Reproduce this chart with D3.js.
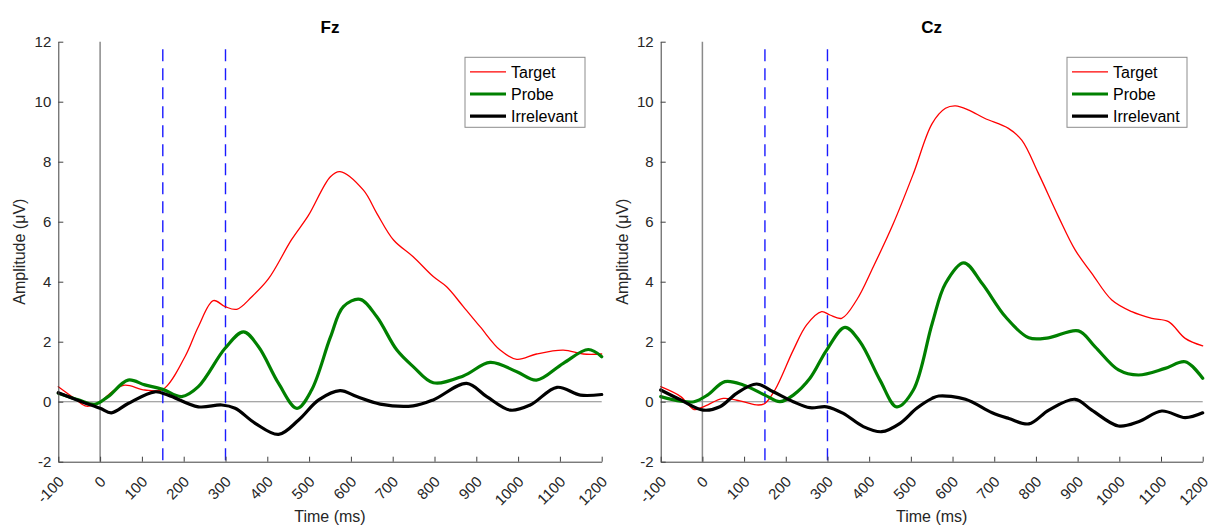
<!DOCTYPE html>
<html>
<head>
<meta charset="utf-8">
<script src="https://cdn.jsdelivr.net/npm/d3@7"></script>
<style>
  html, body { margin: 0; padding: 0; background: #fff; }
  svg { display: block; font-family: "Liberation Sans", Arial, Helvetica, sans-serif; }
</style>
</head>
<body>
<svg id="chart" width="1214" height="527"></svg>
<script>
// ---------------- data ----------------
const panelNames = ["Fz", "Cz"];
const seriesNames = ["Target", "Probe", "Irrelevant"];
const xTicks = [-100, 0, 100, 200, 300, 400, 500, 600, 700, 800, 900, 1000, 1100, 1200];
const yTicks = [-2, 0, 2, 4, 6, 8, 10, 12];
const markerTimes = [150, 300];

// Fz
const fzTargetT = [-100,-60,-32,0,30,59,107,150,203,235,271,299,327,363,403,458,498,551,574,630,662,702,749,797,829,869,909,957,997,1044,1108,1156,1200];
const fzTargetV = [0.5,0.1,-0.15,0,0.35,0.55,0.39,0.41,1.5,2.5,3.37,3.17,3.08,3.5,4.1,5.4,6.2,7.5,7.67,7.05,6.28,5.39,4.83,4.17,3.83,3.17,2.5,1.72,1.41,1.59,1.72,1.59,1.59];
const fzProbeT = [-100,-52,-13,19,67,107,150,195,235,299,343,379,427,471,506,551,582,622,662,710,749,797,869,933,997,1044,1108,1168,1200];
const fzProbeV = [0.28,0.06,-0.09,0.17,0.72,0.56,0.41,0.17,0.5,1.78,2.33,1.83,0.61,-0.22,0.39,2.15,3.17,3.41,2.83,1.72,1.17,0.63,0.86,1.31,1.0,0.72,1.28,1.74,1.5];
const fzIrrT = [-100,-44,0,27,67,131,163,235,291,323,371,427,475,523,574,614,670,749,797,877,925,981,1029,1093,1149,1200];
const fzIrrV = [0.3,0,-0.22,-0.37,-0.06,0.33,0.22,-0.17,-0.11,-0.22,-0.72,-1.09,-0.61,0.06,0.37,0.17,-0.08,-0.14,0.06,0.61,0.17,-0.28,-0.11,0.48,0.22,0.24];

// Cz
const czTargetT = [-100,-52,-20,2,50,90,134,150,174,218,250,286,306,334,370,410,458,506,551,583,607,639,678,734,766,806,854,894,934,982,1030,1078,1118,1158,1200];
const czTargetV = [0.5,0.17,-0.26,-0.17,0.11,0.03,-0.11,-0.06,0.39,1.72,2.56,3.0,2.89,2.78,3.39,4.5,5.94,7.6,9.27,9.78,9.86,9.72,9.44,9.11,8.72,7.61,6.17,5.06,4.28,3.39,3.0,2.78,2.67,2.11,1.86];
const czProbeT = [-100,-52,-20,12,54,98,150,186,218,258,298,342,378,426,466,506,551,583,627,671,727,783,830,902,942,998,1046,1110,1158,1200];
const czProbeV = [0.17,0.02,0,0.22,0.67,0.56,0.22,0,0.22,0.78,1.72,2.48,2.0,0.72,-0.17,0.39,2.6,3.94,4.63,3.94,2.83,2.13,2.13,2.36,1.83,1.06,0.89,1.11,1.33,0.78];
const czIrrT = [-100,-52,2,42,82,130,170,218,258,298,338,386,430,474,514,551,567,631,695,735,783,831,894,934,998,1046,1102,1158,1200];
const czIrrV = [0.39,0.06,-0.28,-0.17,0.28,0.59,0.33,0,-0.2,-0.17,-0.39,-0.83,-1.0,-0.72,-0.22,0.11,0.19,0.08,-0.37,-0.56,-0.74,-0.28,0.08,-0.28,-0.81,-0.67,-0.31,-0.53,-0.37];

// ---------------- layout / style ----------------
const seriesStyle = [
  { color: "#ff0000", width: 1.3 },
  { color: "#008000", width: 3.2 },
  { color: "#000000", width: 3.2 }
];
const panels = [
  { name: panelNames[0], left: 58.3, right: 601.7, legendX: 465,
    series: [[fzTargetT, fzTargetV], [fzProbeT, fzProbeV], [fzIrrT, fzIrrV]] },
  { name: panelNames[1], left: 660.7, right: 1202.7, legendX: 1067,
    series: [[czTargetT, czTargetV], [czProbeT, czProbeV], [czIrrT, czIrrV]] }
];
const plotTop = 41.7, plotBottom = 461.7;
const axisColor = "#404040";
const textColor = "#262626";
const fmt = d => String(d);

const svg = d3.select("#chart");

panels.forEach(p => {
  const x = d3.scaleLinear().domain([-100, 1200]).range([p.left, p.right]);
  const y = d3.scaleLinear().domain([-2, 12]).range([plotBottom, plotTop]);
  const g = svg.append("g");

  // zero reference lines
  g.append("line")
    .attr("x1", x(-100)).attr("x2", x(1200))
    .attr("y1", y(0)).attr("y2", y(0))
    .attr("stroke", "#8a8a8a").attr("stroke-width", 1.1);
  g.append("line")
    .attr("x1", x(0)).attr("x2", x(0))
    .attr("y1", y(12)).attr("y2", y(-2))
    .attr("stroke", "#8a8a8a").attr("stroke-width", 1.5);

  // marker dashed lines
  markerTimes.forEach(t => {
    g.append("line")
      .attr("x1", x(t)).attr("x2", x(t))
      .attr("y1", y(11.75)).attr("y2", y(-2))
      .attr("stroke", "#1a1aff").attr("stroke-width", 1.4)
      .attr("stroke-dasharray", "12,7");
  });

  // series lines
  const line = d3.line()
    .x(d => x(d[0])).y(d => y(d[1]))
    .curve(d3.curveCatmullRom.alpha(0.5));
  p.series.forEach((s, i) => {
    const pts = s[0].map((t, k) => [t, s[1][k]]);
    g.append("path")
      .datum(pts)
      .attr("d", line)
      .attr("fill", "none")
      .attr("stroke", seriesStyle[i].color)
      .attr("stroke-width", seriesStyle[i].width)
      .attr("stroke-linejoin", "round")
      .attr("stroke-linecap", "round");
  });

  // axes
  const yAxis = d3.axisLeft(y).tickValues(yTicks).tickFormat(fmt)
    .tickSizeInner(-5).tickSizeOuter(0).tickPadding(7);
  const ya = g.append("g").attr("transform", `translate(${p.left},0)`).call(yAxis);
  ya.select(".domain").attr("stroke", axisColor);
  ya.selectAll(".tick line").attr("stroke", axisColor);
  ya.selectAll(".tick text").attr("fill", textColor)
    .style("font-size", "15px").style("font-family", "Liberation Sans, Arial, sans-serif");

  const xAxis = d3.axisBottom(x).tickValues(xTicks).tickFormat(fmt)
    .tickSizeInner(-5).tickSizeOuter(0);
  const xa = g.append("g").attr("transform", `translate(0,${plotBottom})`).call(xAxis);
  xa.select(".domain").attr("stroke", axisColor);
  xa.selectAll(".tick line").attr("stroke", axisColor);
  xa.selectAll(".tick text")
    .attr("fill", textColor)
    .attr("x", 0).attr("y", 0).attr("dy", 0)
    .attr("text-anchor", "end")
    .attr("transform", "translate(6,21) rotate(-45)")
    .style("font-size", "15px").style("font-family", "Liberation Sans, Arial, sans-serif");

  // axis labels
  g.append("text")
    .attr("x", (p.left + p.right) / 2).attr("y", 522)
    .attr("text-anchor", "middle")
    .attr("fill", textColor)
    .style("font-size", "16px")
    .text("Time (ms)");
  g.append("text")
    .attr("transform", `translate(${p.left - 33},${(plotTop + plotBottom) / 2}) rotate(-90)`)
    .attr("text-anchor", "middle")
    .attr("fill", textColor)
    .style("font-size", "16px")
    .text("Amplitude (μV)");

  // title
  g.append("text")
    .attr("x", (p.left + p.right) / 2).attr("y", 33)
    .attr("text-anchor", "middle")
    .attr("fill", "#000")
    .style("font-size", "17px").style("font-weight", "bold")
    .text(p.name);

  // legend
  const lg = g.append("g").attr("transform", `translate(${p.legendX},57.3)`);
  lg.append("rect")
    .attr("x", 0).attr("y", 0).attr("width", 120).attr("height", 70)
    .attr("fill", "#fff").attr("stroke", "#8c8c8c").attr("stroke-width", 1);
  seriesNames.forEach((name, i) => {
    const cy = 14.5 + i * 22.2;
    lg.append("line")
      .attr("x1", 5).attr("x2", 41)
      .attr("y1", cy).attr("y2", cy)
      .attr("stroke", seriesStyle[i].color)
      .attr("stroke-width", seriesStyle[i].width);
    lg.append("text")
      .attr("x", 46).attr("y", cy).attr("dy", "0.36em")
      .attr("fill", "#000")
      .style("font-size", "16px")
      .text(name);
  });
});
</script>
</body>
</html>
